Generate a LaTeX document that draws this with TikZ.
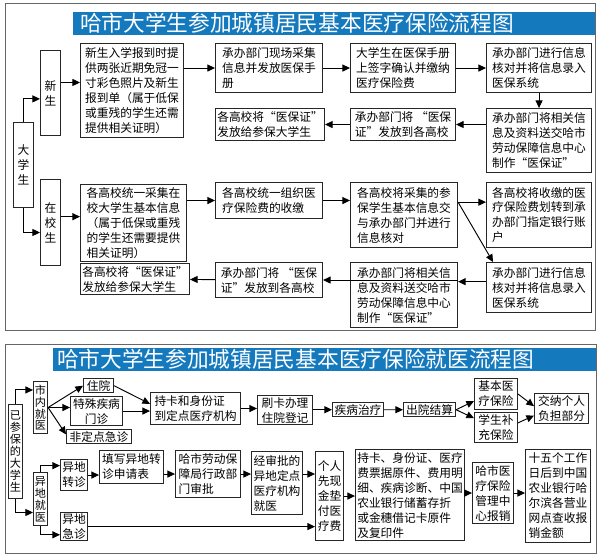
\documentclass[tikz,border=0pt]{standalone}
\usepackage{fontspec}
\setmainfont{Noto Sans CJK SC}
\usetikzlibrary{arrows.meta}
\definecolor{titleblue}{RGB}{20,121,189}

\begin{document}
\begin{tikzpicture}[x=0.03cm, y=-0.03cm,
		box/.style={draw=black!85, line width=0.9pt, fill=white, anchor=north west, align=left, inner sep=1.5pt, font=\fontsize{10}{12.8}\selectfont},
		vbox/.style={box, align=center, inner sep=1pt},
		vsmall/.style={vbox, font=\fontsize{9.5}{10.2}\selectfont},
		wh/.style 2 args={minimum width=#1*0.03cm, minimum height=#2*0.03cm},
		arr/.style={line width=0.8pt, -{Triangle[length=6.5pt,width=6pt]}},
		frame/.style={draw=black!60, line width=0.8pt},
		titletext/.style={text=white, anchor=west, inner sep=0pt, font=\fontsize{18.5}{20}\selectfont}]
		\useasboundingbox (0,0) rectangle (600,556);

		% Enrolment chart
		\draw [frame] (5,3) rectangle (595,330);
		\fill [titleblue] (73,12) rectangle (595,35);
		\node [titletext] (title1) at (80,23.5) {哈市大学生参加城镇居民基本医疗保险流程图};

		\node [vbox, wh={20}{85}] (dxs) at (13,122) {大\\学\\生};
		\node [vbox, wh={20}{85}] (xs) at (40,50) {新\\生};
		\node [vbox, wh={20}{86}] (zx) at (40,179) {在\\校\\生};

		% Freshmen row
		\node [box, wh={103}{94}] (n1) at (80,43) {新生入学报到时提\\供两张近期免冠一\\寸彩色照片及新生\\报到单（属于低保\\或重残的学生还需\\提供相关证明）};
		\node [box, wh={107}{49}] (n2) at (215,43) {承办部门现场采集\\信息并发放医保手\\册};
		\node [box, wh={105}{49}] (n3) at (350,43) {大学生在医保手册\\上签字确认并缴纳\\医疗保险费};
		\node [box, wh={105}{49}] (n4) at (486,43) {承办部门进行信息\\核对并将信息录入\\医保系统};
		\node [box, wh={105}{64}] (n5) at (486,108) {承办部门将相关信\\息及资料送交哈市\\劳动保障信息中心\\制作“医保证”};
		\node [box, wh={105}{32}] (n6) at (350,108) {承办部门将 “医保\\证”发放到各高校};
		\node [box, wh={107}{32}] (n7) at (215,108) {各高校将“医保证”\\发放给参保大学生};

		% Students in school row
		\node [box, wh={106}{77}] (z1) at (80,184) {各高校统一采集在\\校大学生基本信息\\（属于低保或重残\\的学生还需要提供\\相关证明）};
		\node [box, wh={107}{36}] (z2) at (215,182) {各高校统一组织医\\疗保险费的收缴};
		\node [box, wh={107}{65}] (z3) at (350,182) {各高校将采集的参\\保学生基本信息交\\与承办部门并进行\\信息核对};
		\node [box, wh={105}{65}] (z4) at (486,182) {各高校将收缴的医\\疗保险费划转到承\\办部门指定银行账\\户};
		\node [box, wh={105}{50}] (z5) at (486,262) {承办部门进行信息\\核对并将信息录入\\医保系统};
		\node [box, wh={107}{65}] (z6) at (350,262) {承办部门将相关信\\息及资料送交哈市\\劳动保障信息中心\\制作“医保证”};
		\node [box, wh={107}{35}] (z7) at (215,262) {承办部门将 “医保\\证”发放到各高校};
		\node [box, wh={106}{31}] (z8) at (80,263) {各高校将“医保证”\\发放给参保大学生};

		\draw [arr] (dxs.north) |- ([yshift=-5pt]xs.west);
		\draw [arr] (dxs.south) |- ([yshift=-8.5pt]zx.west);
		\draw [arr] ([yshift=9pt]xs.east) -- ([yshift=9pt]xs.east -| n1.west);
		\draw [arr] (n1.east |- n2.west) -- (n2.west);
		\draw [arr] (n2) -- (n3);
		\draw [arr] (n3) -- (n4);
		\draw [arr] (n4) -- (n5);
		\draw [arr] (n5.west |- n6.east) -- (n6.east);
		\draw [arr] (n6) -- (n7);

		\draw [arr] ([yshift=5pt]zx.east) -- ([yshift=5pt]zx.east -| z1.west);
		\draw [arr] (z1.east |- z2.west) -- (z2.west);
		\draw [arr] (z2.east) -- (z2.east -| z3.west);
		\draw [arr] ([yshift=11pt]z3.east) -- ([yshift=11pt]z3.east -| z4.west);
		\draw [arr] ([yshift=11pt]z3.east) -- ([xshift=6pt]z5.north west);
		\draw [arr] ([yshift=5pt]z5.west) -- ([yshift=5pt]z5.west -| z6.east);
		\draw [arr] (z6.east |- z7.east) -- (z7.east);
		\draw [arr] (z7) -- (z8);

		% Treatment chart
		\draw [frame] (5,344) rectangle (596,553);
		\fill [titleblue] (53,348) rectangle (596,371);
		\node [titletext] (title2) at (57,359.5) {哈市大学生参加城镇居民基本医疗保险就医流程图};

		\node [vsmall, wh={14}{94}] (yc) at (8,404) {已\\参\\保\\的\\大\\学\\生};
		\node [vsmall, wh={14}{52}] (sn) at (33,381) {市\\内\\就\\医};
		\node [vsmall, wh={14}{53}] (yd) at (33,472) {异\\地\\就\\医};

		% In the city
		\node [box, wh={30}{14}] (zy) at (83,378) {住院};
		\node [vbox, wh={52}{29}] (ts) at (70,396) {特殊疾病\\门诊};
		\node [box, wh={65}{13}] (fd) at (66,429) {非定点急诊};
		\node [box, wh={90}{32}] (ck) at (150,392) {持卡和身份证\\到定点医疗机构};
		\node [box, wh={55}{29}] (sk) at (257,395) {刷卡办理\\住院登记};
		\node [box, wh={51}{13}] (jb) at (332,402) {疾病治疗};
		\node [box, wh={52}{13}] (cy) at (403,402) {出院结算};
		\node [box, wh={43}{31}] (jy) at (474,378) {基本医\\疗保险};
		\node [box, wh={43}{30}] (xb) at (474,412) {学生补\\充保险};
		\node [box, wh={54}{30}] (jn) at (534,393) {交纳个人\\负担部分};

		% Out of town
		\node [vbox, wh={27}{31}] (yz) at (60,459) {异地\\转诊};
		\node [vbox, wh={27}{28}] (yj) at (60,512) {异地\\急诊};
		\node [box, wh={64}{33}] (tx) at (99,450) {填写异地转\\诊申请表};
		\node [box, wh={65}{47}] (hs) at (175,450) {哈市劳动保\\障局行政部\\门审批};
		\node [box, wh={51}{63}] (js) at (251,451) {经审批的\\异地定点\\医疗机构\\就医};
		\node [vbox, wh={28}{89}] (gr) at (315,451) {个人\\先现\\金垫\\付医\\疗费};
		\node [box, wh={108}{91}] (cz) at (355,449) {持卡、身份证、医疗\\费票据原件、费用明\\细、疾病诊断、中国\\农业银行储蓄存折\\或金穗借记卡原件\\及复印件};
		\node [vbox, wh={41}{61}] (hy) at (472,462) {哈市医\\疗保险\\管理中\\心报销};
		\node [box, wh={65}{93}] (sw) at (525,449) {十五个工作\\日后到中国\\农业银行哈\\尔滨各营业\\网点查收报\\销金额};

		\draw [arr] (yc.north) |- ([yshift=15pt]sn.west);
		\draw [arr] (yc.south) |- ([yshift=-11.5pt]yd.west);
		\draw [arr] (sn.east) -- (zy.west);
		\draw [arr] (sn.east) -- (sn.east -| ts.west);
		\draw [arr] (sn.east) -- ([yshift=2pt]fd.west);
		\draw [arr] (zy.east) -- ([yshift=4pt]ck.west);
		\draw [arr] (ts.east) -- (ts.east -| ck.west);
		\draw [arr] (ck.east) -- (ck.east -| sk.west);
		\draw [arr] (sk.east |- jb.west) -- (jb.west);
		\draw [arr] (jb) -- (cy);
		\draw [arr] (cy.east) -- ([yshift=-6pt]jy.west);
		\draw [arr] (cy.east) -- ([yshift=8pt]xb.west);
		\draw [arr] (jy.east) -- ([yshift=2pt]jn.west);
		\draw [arr] ([yshift=4pt]xb.east) -- ([yshift=-6pt]jn.west);

		\draw [arr] (yd.north) |- ([yshift=8pt]yz.west);
		\draw [arr] (yd.south) |- ([yshift=-7pt]yj.west);
		\draw [arr] (yz.east) -- (yz.east -| tx.west);
		\draw [arr] (tx.east |- hs.west) -- (hs.west);
		\draw [arr] (hs.east) -- (hs.east -| js.west);
		\draw [arr] (hs.east -| js.east) -- (hs.east -| gr.west);
		\draw [arr] (yj.east) -- (yj.east -| gr.west);
		\draw [arr] (gr.east) -- (gr.east -| cz.west);
		\draw [arr] (cz.east |- hy.west) -- (hy.west);
		\draw [arr] (hy.east) -- (hy.east -| sw.west);

	\end{tikzpicture}
\end{document}
